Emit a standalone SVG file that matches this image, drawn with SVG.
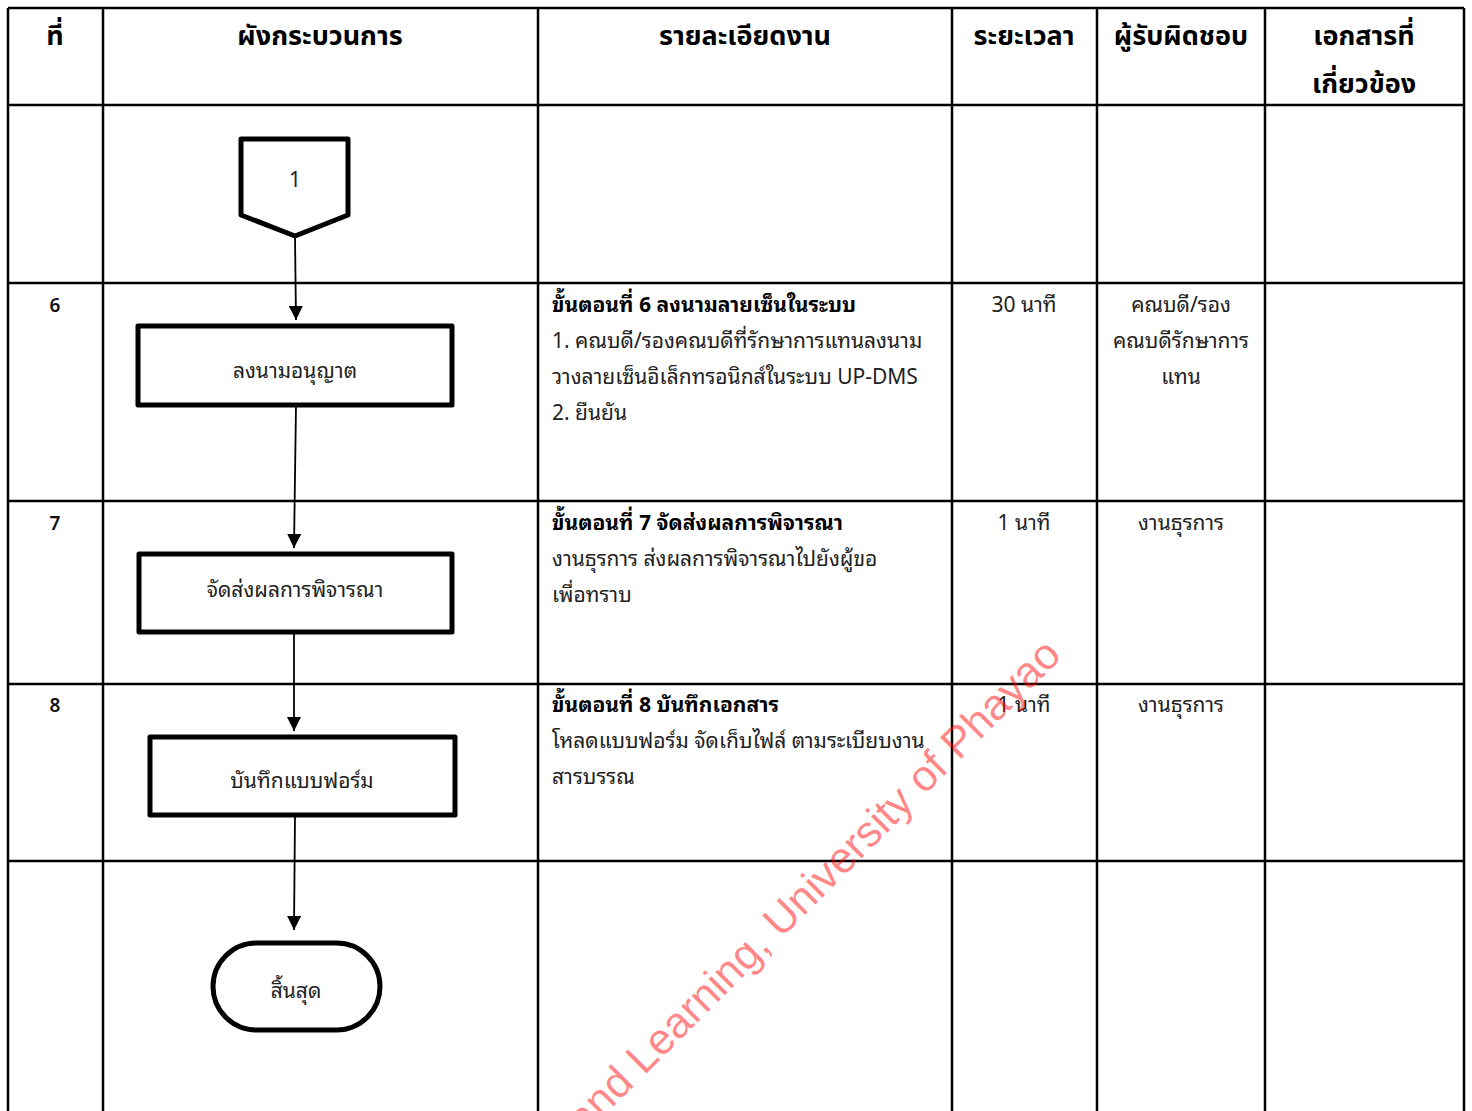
<svg xmlns="http://www.w3.org/2000/svg" width="1472" height="1111" viewBox="0 0 1472 1111">
  <style>
    .grid { stroke: #000; stroke-width: 2.5; fill: none; }
    .hdr { font-family: "Noto Sans Thai", "Noto Sans", "DejaVu Sans", sans-serif; font-weight: bold; font-size: 27px; fill: #000; text-anchor: middle; }
    .body { font-family: "Noto Sans Thai Looped", "Loma", "Tahoma", "Noto Sans Thai", "Noto Sans", sans-serif; font-size: 21px; fill: #222; }
    .bold { font-weight: bold; fill: #000; }
    .ctr { text-anchor: middle; }
    .num { font-family: "Noto Sans", "DejaVu Sans", sans-serif; font-size: 19px; font-weight: 600; fill: #111; text-anchor: middle; }
    .shape { fill: #fff; stroke: #000; stroke-width: 5; stroke-linejoin: round; }
    .label { font-family: "Noto Sans Thai Looped", "Loma", "Tahoma", "Noto Sans Thai", "Noto Sans", sans-serif; font-size: 21px; fill: #222; text-anchor: middle; dominant-baseline: central; }
    .conn { stroke: #000; stroke-width: 1.8; fill: none; marker-end: url(#arrow); }
    .wm { font-family: "Liberation Sans", Arial, sans-serif; font-size: 43.5px; fill: #ff0000; fill-opacity: 0.48; }
  </style>
  <defs>
    <marker id="arrow" viewBox="0 0 10 10" refX="10" refY="5" markerWidth="14" markerHeight="14" markerUnits="userSpaceOnUse" orient="auto">
      <path d="M0,0 L10,5 L0,10 Z" fill="#000"/>
    </marker>
  </defs>

  <rect width="1472" height="1111" fill="#fff"/>

  <!-- table grid -->
  <g id="table">
    <line class="grid" x1="8" y1="8" x2="1464" y2="8"/>
    <line class="grid" x1="8" y1="105" x2="1464" y2="105"/>
    <line class="grid" x1="8" y1="283" x2="1464" y2="283"/>
    <line class="grid" x1="8" y1="501" x2="1464" y2="501"/>
    <line class="grid" x1="8" y1="684" x2="1464" y2="684"/>
    <line class="grid" x1="8" y1="861" x2="1464" y2="861"/>
    <line class="grid" x1="8" y1="8" x2="8" y2="1111"/>
    <line class="grid" x1="103" y1="8" x2="103" y2="1111"/>
    <line class="grid" x1="538" y1="8" x2="538" y2="1111"/>
    <line class="grid" x1="952" y1="8" x2="952" y2="1111"/>
    <line class="grid" x1="1097" y1="8" x2="1097" y2="1111"/>
    <line class="grid" x1="1265" y1="8" x2="1265" y2="1111"/>
    <line class="grid" x1="1464" y1="8" x2="1464" y2="1111"/>
  </g>

  <!-- header row -->
  <g id="header">
    <text class="hdr" x="55" y="45">ที่</text>
    <text class="hdr" x="320" y="45">ผังกระบวนการ</text>
    <text class="hdr" x="745" y="45">รายละเอียดงาน</text>
    <text class="hdr" x="1024" y="45">ระยะเวลา</text>
    <text class="hdr" x="1181" y="45">ผู้รับผิดชอบ</text>
    <text class="hdr" x="1364" y="45">เอกสารที่</text>
    <text class="hdr" x="1364" y="93">เกี่ยวข้อง</text>
  </g>

  <!-- step numbers -->
  <g id="step-numbers">
    <text class="num" x="55" y="312">6</text>
    <text class="num" x="55" y="530">7</text>
    <text class="num" x="55" y="712">8</text>
  </g>

  <!-- step details -->
  <g id="details">
    <text class="body bold" x="552" y="312">ขั้นตอนที่ 6 ลงนามลายเซ็นในระบบ</text>
    <text class="body" x="552" y="348">1. คณบดี/รองคณบดีที่รักษาการแทนลงนาม</text>
    <text class="body" x="552" y="384">วางลายเซ็นอิเล็กทรอนิกส์ในระบบ UP-DMS</text>
    <text class="body" x="552" y="420">2. ยืนยัน</text>

    <text class="body bold" x="552" y="530">ขั้นตอนที่ 7 จัดส่งผลการพิจารณา</text>
    <text class="body" x="552" y="566">งานธุรการ ส่งผลการพิจารณาไปยังผู้ขอ</text>
    <text class="body" x="552" y="602">เพื่อทราบ</text>

    <text class="body bold" x="552" y="712">ขั้นตอนที่ 8 บันทึกเอกสาร</text>
    <text class="body" x="552" y="748">โหลดแบบฟอร์ม จัดเก็บไฟล์ ตามระเบียบงาน</text>
    <text class="body" x="552" y="784">สารบรรณ</text>
  </g>

  <!-- durations -->
  <g id="durations">
    <text class="body ctr" x="1024" y="312">30 นาที</text>
    <text class="body ctr" x="1024" y="530">1 นาที</text>
    <text class="body ctr" x="1024" y="712">1 นาที</text>
  </g>

  <!-- responsible parties -->
  <g id="responsible">
    <text class="body ctr" x="1181" y="312">คณบดี/รอง</text>
    <text class="body ctr" x="1181" y="348">คณบดีรักษาการ</text>
    <text class="body ctr" x="1181" y="384">แทน</text>
    <text class="body ctr" x="1181" y="530">งานธุรการ</text>
    <text class="body ctr" x="1181" y="712">งานธุรการ</text>
  </g>

  <!-- connectors -->
  <g id="connectors">
    <line class="conn" x1="295" y1="236" x2="296" y2="320"/>
    <line class="conn" x1="296" y1="405" x2="294" y2="548"/>
    <line class="conn" x1="294" y1="632" x2="294" y2="731"/>
    <line class="conn" x1="295" y1="815" x2="294" y2="930"/>
  </g>

  <!-- flowchart nodes -->
  <g id="node-connector-1">
    <path class="shape" d="M241,139 L348,139 L348,215 L295,236 L241,215 Z"/>
    <text class="label" x="295" y="177">1</text>
  </g>
  <g id="node-sign">
    <rect class="shape" x="138" y="326" width="314" height="79"/>
    <text class="label" x="295" y="368">ลงนามอนุญาต</text>
  </g>
  <g id="node-send">
    <rect class="shape" x="139" y="554" width="313" height="78"/>
    <text class="label" x="295" y="587">จัดส่งผลการพิจารณา</text>
  </g>
  <g id="node-save">
    <rect class="shape" x="150" y="737" width="305" height="78"/>
    <text class="label" x="302" y="778">บันทึกแบบฟอร์ม</text>
  </g>
  <g id="node-end">
    <rect class="shape" x="213" y="943" width="167" height="87" rx="43.5" ry="43.5"/>
    <text class="label" x="296" y="988">สิ้นสุด</text>
  </g>

  <!-- diagonal watermark -->
  <text class="wm" x="0" y="0" text-anchor="end" transform="translate(1063,657) rotate(-45)">and Learning, University of Phayao</text>
</svg>
